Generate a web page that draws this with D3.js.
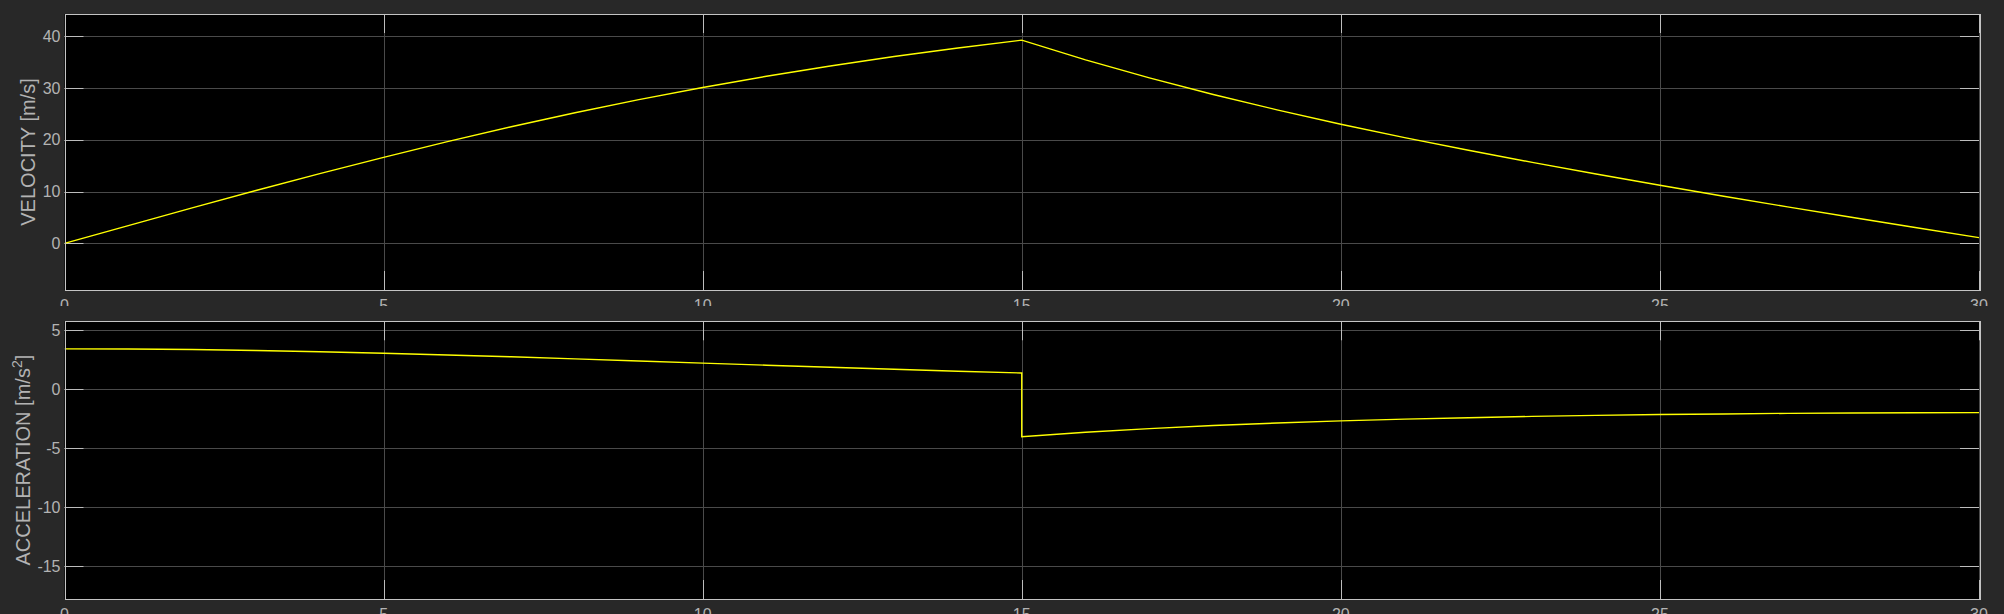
<!DOCTYPE html>
<html><head><meta charset="utf-8">
<script src="https://cdn.jsdelivr.net/npm/d3@7"></script>
<style>body{margin:0;background:#282828;overflow:hidden}svg{display:block}</style>
</head><body>
<svg id="c" width="2004" height="614"></svg>
<script>
// ---- data ----
const timeV = [0,1,2,3,4,5,6,7,8,9,10,11,12,13,14,15,16,17,18,19,20,21,22,23,24,25,26,27,28,29,30];
const velocity = [0,3.42,6.84,10.2,13.45,16.6,19.63,22.5,25.2,27.73,30.07,32.24,34.23,36.05,37.7,39.2,
  35.4,31.92,28.72,25.76,22.99,20.41,17.97,15.62,13.37,11.2,9.1,7.04,5.03,3.05,1.1];
const timeA = [0,1,2,3,4,5,6,7,8,9,10,11,12,13,14,15,15,16,17,18,19,20,21,22,23,24,25,26,27,28,29,30];
const accel = [3.42,3.41,3.37,3.28,3.18,3.05,2.91,2.75,2.58,2.4,2.22,2.04,1.87,1.7,1.53,1.38,
  -4.02,-3.64,-3.33,-3.07,-2.86,-2.68,-2.53,-2.41,-2.3,-2.21,-2.14,-2.09,-2.04,-2.01,-1.99,-1.98];
const xTicks = [0,5,10,15,20,25,30];
const vTicks = [0,10,20,30,40];
const aTicks = [-15,-10,-5,0,5];
const xDomain = [0,30];
const vDomain = [-9,44.25];
const aDomain = [-17.77,5.76];

// ---- drawing ----
const svg = d3.select("#c");
const FONT = "'Liberation Sans', Arial, Helvetica, sans-serif";
const L = 64.5, R = 1979;
const x = d3.scaleLinear().domain(xDomain).range([L, R]);

function panel(top, bottom, yDomain, yTicks, xs, ys, label, labelX, sup, clipBottom, id) {
  const y = d3.scaleLinear().domain(yDomain).range([bottom, top]);
  const g = svg.append("g");
  g.append("rect").attr("x", L).attr("y", top).attr("width", R - L).attr("height", bottom - top).attr("fill", "#000");
  // grid
  g.selectAll(".gx").data(xTicks).join("line")
    .attr("x1", d => Math.round(x(d)) + 0.5).attr("x2", d => Math.round(x(d)) + 0.5)
    .attr("y1", top).attr("y2", bottom).attr("stroke", "#4a4a4a").attr("stroke-width", 1);
  g.selectAll(".gy").data(yTicks).join("line")
    .attr("y1", d => Math.round(y(d)) + 0.5).attr("y2", d => Math.round(y(d)) + 0.5)
    .attr("x1", L).attr("x2", R).attr("stroke", "#4a4a4a").attr("stroke-width", 1);
  // inner ticks
  const TL = 19, tc = "#bdbdbd";
  g.selectAll(".tl").data(yTicks).join("line")
    .attr("y1", d => Math.round(y(d)) + 0.5).attr("y2", d => Math.round(y(d)) + 0.5)
    .attr("x1", L).attr("x2", L + TL).attr("stroke", tc);
  g.selectAll(".tr").data(yTicks).join("line")
    .attr("y1", d => Math.round(y(d)) + 0.5).attr("y2", d => Math.round(y(d)) + 0.5)
    .attr("x1", R - TL).attr("x2", R).attr("stroke", tc);
  g.selectAll(".tt").data(xTicks).join("line")
    .attr("x1", d => Math.round(x(d)) + 0.5).attr("x2", d => Math.round(x(d)) + 0.5)
    .attr("y1", top).attr("y2", top + TL).attr("stroke", tc);
  g.selectAll(".tb").data(xTicks).join("line")
    .attr("x1", d => Math.round(x(d)) + 0.5).attr("x2", d => Math.round(x(d)) + 0.5)
    .attr("y1", bottom - TL).attr("y2", bottom).attr("stroke", tc);
  // data line
  const cid = "clip" + id;
  svg.append("clipPath").attr("id", cid).append("rect")
    .attr("x", L).attr("y", top).attr("width", R - L).attr("height", bottom - top);
  const pts = xs.map((t, i) => [t, ys[i]]);
  g.append("path").datum(pts)
    .attr("d", d3.line().x(d => x(d[0])).y(d => y(d[1])))
    .attr("fill", "none").attr("stroke", "#ffff00").attr("stroke-width", 1.4)
    .attr("clip-path", `url(#${cid})`);
  // box
  g.append("rect").attr("x", Math.round(L) + 0.5).attr("y", Math.round(top) + 0.5)
    .attr("width", Math.round(R - L)).attr("height", Math.round(bottom - top))
    .attr("fill", "none").attr("stroke", "#c4c4c4").attr("stroke-width", 1);
  // y tick labels
  g.selectAll(".yl").data(yTicks).join("text")
    .attr("x", L - 4).attr("y", d => y(d)).attr("dy", "0.36em")
    .attr("text-anchor", "end").attr("font-family", FONT).attr("font-size", 16)
    .attr("fill", "#b3b3b3").text(d => d);
  // x tick labels (partly hidden)
  const lid = "lclip" + id;
  svg.append("clipPath").attr("id", lid).append("rect")
    .attr("x", 0).attr("y", bottom).attr("width", 2004).attr("height", clipBottom - bottom);
  g.append("g").attr("clip-path", `url(#${lid})`)
    .selectAll("text").data(xTicks).join("text")
    .attr("x", d => x(d)).attr("y", bottom + 20.5)
    .attr("text-anchor", "middle").attr("font-family", FONT).attr("font-size", 16)
    .attr("fill", "#b3b3b3").text(d => d);
  // y label
  const cy = (top + bottom) / 2;
  const t = g.append("text")
    .attr("transform", `translate(${labelX},${cy}) rotate(-90)`)
    .attr("text-anchor", "middle").attr("font-family", FONT).attr("font-size", 20)
    .attr("fill", "#b3b3b3");
  t.append("tspan").text(label);
  if (sup) {
    t.append("tspan").attr("font-size", 14).attr("dy", -8).text(sup);
    t.append("tspan").attr("dy", 8).text("]");
  }
}

panel(14, 290, vDomain, vTicks, timeV, velocity, "VELOCITY [m/s]", 35, null, 306, "v");
panel(321.3, 599, aDomain, aTicks, timeA, accel, "ACCELERATION [m/s", 29.5, "2", 614, "a");
</script>
</body></html>
